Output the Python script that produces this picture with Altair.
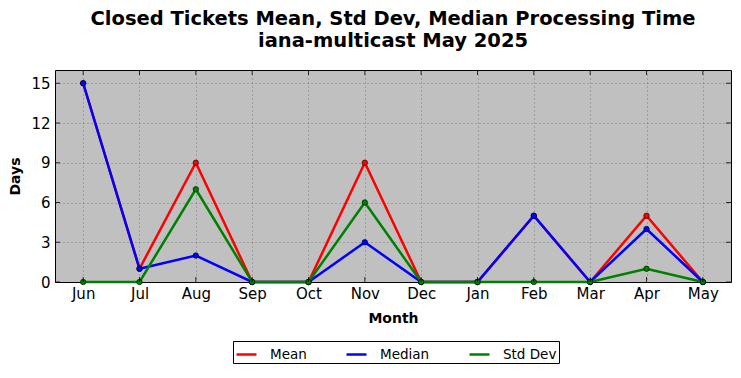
import altair as alt
import pandas as pd

months = ["Jun", "Jul", "Aug", "Sep", "Oct", "Nov", "Dec", "Jan", "Feb", "Mar", "Apr", "May"]
mean_vals = [15, 1, 9, 0, 0, 9, 0, 0, 5, 0, 5, 0]
median_vals = [15, 1, 2, 0, 0, 3, 0, 0, 5, 0, 4, 0]
std_vals = [0, 0, 7, 0, 0, 6, 0, 0, 0, 0, 1, 0]
series_names = ["Mean", "Median", "Std Dev"]
series_colors = ["#ff0000", "#0000ff", "#008000"]
y_ticks = [0, 3, 6, 9, 12, 15]

rows = []
for name, vals in zip(series_names, [mean_vals, median_vals, std_vals]):
    for m, v in zip(months, vals):
        rows.append({"Month": m, "Days": v, "Series": name})
df = pd.DataFrame(rows)

W, H = 676, 212
FONT = "DejaVu Sans"

x_enc = alt.X("Month:N", sort=months,
              scale=alt.Scale(type="point", padding=0.5, domain=months),
              axis=alt.Axis(title="Month", labelAngle=0, ticks=False, domain=False,
                            grid=True, labelFontSize=15, labelPadding=4,
                            titleFontSize=14, titleFontWeight="bold", titlePadding=10))
y_enc = alt.Y("Days:Q", scale=alt.Scale(domain=[0, 16], nice=False, zero=True),
              axis=alt.Axis(title="Days", values=y_ticks, ticks=False, domain=False,
                            grid=True, labelFontSize=15, labelPadding=5,
                            titleFontSize=14, titleFontWeight="bold", titlePadding=8))
color_enc = alt.Color("Series:N", scale=alt.Scale(domain=series_names, range=series_colors),
                      legend=alt.Legend(title=None, orient="none", direction="horizontal",
                                        legendX=178, legendY=271, symbolType="stroke",
                                        symbolSize=400, symbolStrokeWidth=2.5,
                                        labelFontSize=13.5, labelOffset=12, columnPadding=34,
                                        strokeColor="black", padding=2, cornerRadius=0,
                                        fillColor="white"))

layers = []
for name in series_names:
    layers.append(
        alt.Chart(df).transform_filter(alt.datum.Series == name).mark_line(
            strokeWidth=2.5,
            point=alt.OverlayMarkDef(filled=True, size=30, stroke="black", strokeWidth=0.6),
        ).encode(x=x_enc, y=y_enc, color=color_enc)
    )

tick_df = pd.DataFrame({"Month": months})
ytick_df = pd.DataFrame({"Days": y_ticks})
xt_bottom = alt.Chart(tick_df).mark_rule(color="black", strokeWidth=0.8).encode(
    x=alt.X("Month:N", sort=months), y=alt.value(H), y2=alt.value(H - 5))
xt_top = alt.Chart(tick_df).mark_rule(color="black", strokeWidth=0.8).encode(
    x=alt.X("Month:N", sort=months), y=alt.value(0), y2=alt.value(5))
yt_left = alt.Chart(ytick_df).mark_rule(color="black", strokeWidth=0.8).encode(
    y=alt.Y("Days:Q"), x=alt.value(0), x2=alt.value(5))
yt_right = alt.Chart(ytick_df).mark_rule(color="black", strokeWidth=0.8).encode(
    y=alt.Y("Days:Q"), x=alt.value(W - 5), x2=alt.value(W))

chart = alt.layer(*layers, xt_bottom, xt_top, yt_left, yt_right).properties(
    width=W, height=H,
    title=alt.TitleParams(
        text=["Closed Tickets Mean, Std Dev, Median Processing Time", "iana-multicast May 2025"],
        fontSize=19.5, fontWeight="bold", font=FONT, anchor="middle", offset=18,
        lineHeight=22, color="black"),
    autosize=alt.AutoSizeParams(type="none"),
    padding={"left": 47, "top": 62, "right": 2, "bottom": 86},
).configure(font=FONT).configure_view(
    fill="#c0c0c0", stroke="black", strokeWidth=1
).configure_axis(
    gridColor="black", gridOpacity=0.45, gridDash=[1, 3], gridWidth=0.8,
    labelColor="black", titleColor="black", labelFont=FONT, titleFont=FONT
).configure_legend(labelFont=FONT, labelColor="black")

chart.save("out.html", embed_options={"renderer": "svg", "actions": False})
